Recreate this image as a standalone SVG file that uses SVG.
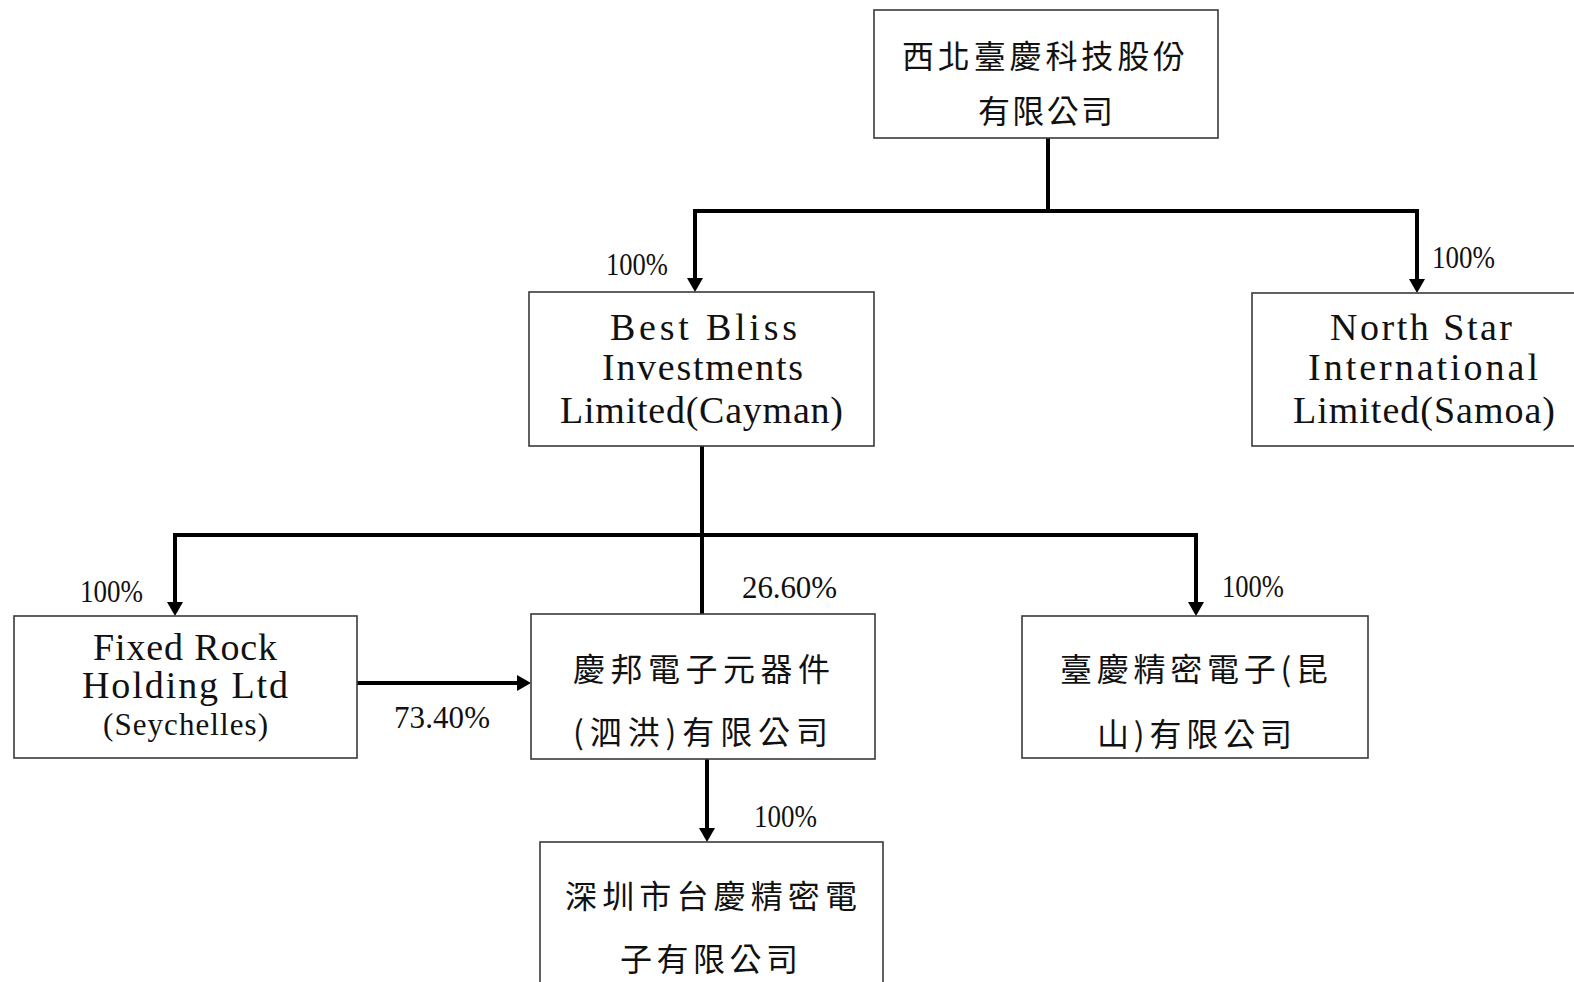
<svg xmlns="http://www.w3.org/2000/svg" width="1574" height="982" viewBox="0 0 1574 982">
<style>
.box{fill:#fff;stroke:#3a3a3a;stroke-width:1.6}
.cn{font-family:"Noto Sans CJK TC","Noto Sans CJK SC",sans-serif;font-size:32px;fill:#111;dominant-baseline:central}
.en{font-family:"Liberation Serif",serif;font-size:38px;fill:#111}
.en2{font-family:"Liberation Serif",serif;font-size:31px;fill:#111}
.pct{font-family:"Liberation Serif",serif;font-size:31px;fill:#111}
.ln{fill:none;stroke:#000;stroke-width:4}
</style>
<defs>
<marker id="ah" markerUnits="userSpaceOnUse" markerWidth="16" markerHeight="16" refX="6" refY="8" orient="auto">
<path d="M0,0 L14,8 L0,16 z" fill="#000"/>
</marker>
</defs>
<rect width="1574" height="982" fill="#fff"/>
<g id="connectors">
<path class="ln" d="M1048,138 V211"/>
<path class="ln" d="M693,211 H1419"/>
<path class="ln" d="M695,211 V284" marker-end="url(#ah)"/>
<path class="ln" d="M1417,211 V285" marker-end="url(#ah)"/>
<path class="ln" d="M702,446 V614"/>
<path class="ln" d="M173,535 H1198"/>
<path class="ln" d="M175,535 V608" marker-end="url(#ah)"/>
<path class="ln" d="M1196,535 V608" marker-end="url(#ah)"/>
<path class="ln" d="M357,683 H523" marker-end="url(#ah)"/>
<path class="ln" d="M707,759 V834" marker-end="url(#ah)"/>
</g>
<g id="labels">
<text class="pct" x="606" y="275" textLength="62" lengthAdjust="spacingAndGlyphs">100%</text>
<text class="pct" x="1432" y="268" textLength="63" lengthAdjust="spacingAndGlyphs">100%</text>
<text class="pct" x="80" y="602" textLength="63" lengthAdjust="spacingAndGlyphs">100%</text>
<text class="pct" x="742" y="598" textLength="95">26.60%</text>
<text class="pct" x="1222" y="597" textLength="62" lengthAdjust="spacingAndGlyphs">100%</text>
<text class="pct" x="394" y="728" textLength="96">73.40%</text>
<text class="pct" x="754" y="827" textLength="63" lengthAdjust="spacingAndGlyphs">100%</text>
</g>
<g id="node-top">
<rect class="box" x="874" y="10" width="344" height="128"/>
<text class="cn" x="902" y="54" textLength="283">西北臺慶科技股份</text>
<text class="cn" x="978" y="109" textLength="135">有限公司</text>
</g>
<g id="node-bestbliss">
<rect class="box" x="529" y="292" width="345" height="154"/>
<text class="en" x="610" y="340" textLength="187">Best Bliss</text>
<text class="en" x="602" y="380" textLength="201">Investments</text>
<text class="en" x="560" y="423" textLength="283">Limited(Cayman)</text>
</g>
<g id="node-northstar">
<rect class="box" x="1252" y="293" width="330" height="153"/>
<text class="en" x="1330" y="340" textLength="182">North Star</text>
<text class="en" x="1308" y="380" textLength="230">International</text>
<text class="en" x="1293" y="423" textLength="262">Limited(Samoa)</text>
</g>
<g id="node-fixedrock">
<rect class="box" x="14" y="616" width="343" height="142"/>
<text class="en" x="93" y="660" textLength="184">Fixed Rock</text>
<text class="en" x="82" y="698" textLength="206">Holding Ltd</text>
<text class="en2" x="103" y="735" textLength="165">(Seychelles)</text>
</g>
<g id="node-qingbang">
<rect class="box" x="531" y="614" width="344" height="145"/>
<text class="cn" x="573" y="667" textLength="257">慶邦電子元器件</text>
<text class="cn" x="573" y="730" textLength="255">(泗洪)有限公司</text>
</g>
<g id="node-kunshan">
<rect class="box" x="1022" y="616" width="346" height="142"/>
<text class="cn" x="1060" y="667" textLength="268">臺慶精密電子(昆</text>
<text class="cn" x="1097" y="732" textLength="195">山)有限公司</text>
</g>
<g id="node-shenzhen">
<rect class="box" x="540" y="842" width="343" height="150"/>
<text class="cn" x="565" y="894" textLength="292">深圳市台慶精密電</text>
<text class="cn" x="620" y="957" textLength="178">子有限公司</text>
</g>
</svg>
